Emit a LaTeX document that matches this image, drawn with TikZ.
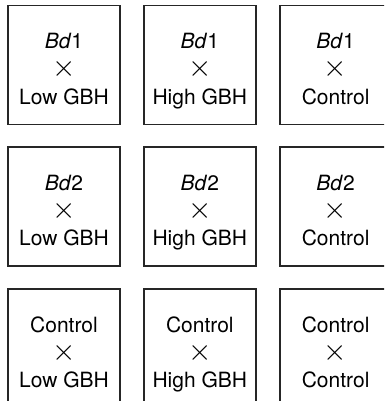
\documentclass[tikz,border=0pt]{standalone}
\usepackage{fontspec}
\setmainfont{TeX Gyre Heros}
\usepackage{graphicx}
\usepackage{tikz}
\usetikzlibrary{positioning}

\newcommand{\bycross}{\scalebox{1.45}{$\times$}}

\begin{document}
\begin{tikzpicture}[
    node distance=21pt and 22pt,
    cell/.style={rectangle, draw=black!85, line width=1.8pt, minimum width=112pt, minimum height=119pt, inner sep=0pt, align=center, font=\fontsize{21}{27.5}\selectfont,
        text depth=0pt, execute at begin node={\rule{0pt}{78pt}}}
]
    \clip (0,0) rectangle (384pt,-401pt);
    \useasboundingbox (0,0) rectangle (384pt,-401pt);

    % Row 1
    \node[cell] (bdOneLow) at (64pt,-65pt) {\textit{Bd}1\\\bycross\\Low GBH};
    \node[cell, right=of bdOneLow] (bdOneHigh) {\textit{Bd}1\\\bycross\\High GBH};
    \node[cell, right=of bdOneHigh] (bdOneCtrl) {\textit{Bd}1\\\bycross\\Control};

    % Row 2
    \node[cell, below=of bdOneLow] (bdTwoLow) {\textit{Bd}2\\\bycross\\Low GBH};
    \node[cell, right=of bdTwoLow] (bdTwoHigh) {\textit{Bd}2\\\bycross\\High GBH};
    \node[cell, right=of bdTwoHigh] (bdTwoCtrl) {\textit{Bd}2\\\bycross\\Control};

    % Row 3
    \node[cell, below=of bdTwoLow] (ctrlLow) {Control\\\bycross\\Low GBH};
    \node[cell, right=of ctrlLow] (ctrlHigh) {Control\\\bycross\\High GBH};
    \node[cell, right=of ctrlHigh] (ctrlCtrl) {Control\\\bycross\\Control};

\end{tikzpicture}
\end{document}
